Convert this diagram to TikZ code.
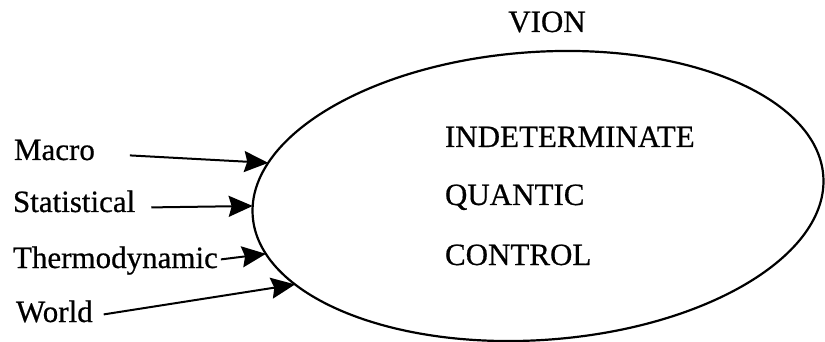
\documentclass[tikz,border=0pt]{standalone}
\usepackage{fontspec}
\setmainfont{Liberation Serif}[FakeBold=0.6]
\usetikzlibrary{arrows.meta}
\usetikzlibrary{positioning}
\usetikzlibrary{shapes}

\begin{document}
\begin{tikzpicture}[>={Stealth[length=12pt,width=10.5pt,inset=1.5pt]},x=0.5pt,y=-0.5pt,line width=1pt]
\tikzstyle{word}=[inner sep=0pt,font=\fontsize{15.5}{18}\selectfont]
\tikzstyle{input}=[word,anchor=base west]
\tikzstyle{mode}=[word,anchor=base west]
\tikzstyle{blob}=[draw,ellipse,line width=1.1pt,outer sep=0pt,minimum width=286pt,minimum height=144pt,rotate=4]

\useasboundingbox (0,0) rectangle (825,342);

% the big ellipse and its title
\node[blob] (vion) at (538,196) {};
\node[word,anchor=base] (title) at (547,32) {VION};

\node[mode] (indet) at (444,147) {INDETERMINATE};
\node[mode,below=29pt of indet.base west,anchor=base west] (quantic) {QUANTIC};
\node[mode,below=30pt of quantic.base west,anchor=base west] (control) {CONTROL};

% inputs on the left
\node[input] (macro) at (13,160) {Macro};
\node[input] (stat) at (12,212) {Statistical};
\node[input] (thermo) at (12,268) {Thermodynamic};
\node[input] (world) at (15,322) {World};

\draw[->] ([xshift=17pt]macro.mid east) -- (vion.169);
\draw[->] ([xshift=7.5pt]stat.mid east) -- (vion.178);
\draw[->] ([xshift=1pt,yshift=2pt]thermo.mid east) -- (vion.188);
\draw[->] ([xshift=5pt,yshift=1.5pt]world.mid east) -- (vion.196);
\end{tikzpicture}
\end{document}
